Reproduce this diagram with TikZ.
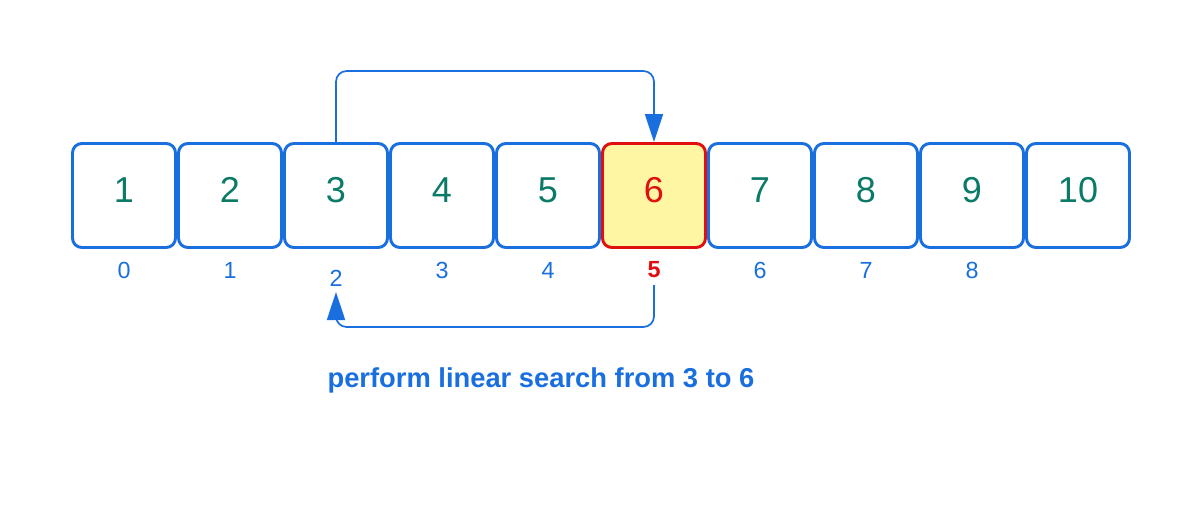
\documentclass[tikz,border=0pt]{standalone}
\usepackage{fontspec}
\setmainfont{Liberation Sans}
\usetikzlibrary{arrows.meta}
\definecolor{bl}{HTML}{1A6FDF}
\definecolor{gr}{HTML}{0B7A66}
\definecolor{rd}{HTML}{E01010}
\definecolor{yl}{HTML}{FFF6A3}
\begin{document}
\begin{tikzpicture}[x=0.75pt,y=-0.75pt,
  cell/.style={draw=bl,line width=2.2pt,rounded corners=7pt,minimum width=103*0.75pt,minimum height=104*0.75pt,inner sep=0pt,text=gr,font=\fontsize{27}{29}\selectfont},
  idx/.style={text=bl,font=\fontsize{17.5}{19}\selectfont,inner sep=0pt},
  conn/.style={draw=bl,line width=1.3pt,rounded corners=8pt},
  tip/.style={-{Triangle[length=28pt*0.75,width=18pt*0.75]}}]
\useasboundingbox (0,0) rectangle (1200,510);
\foreach \i in {1,...,10}{
  \ifnum\i=6
    \node[cell,draw=rd,fill=yl] (c\i) at ({124+106*(\i-1)},195.5) {};
    \node[text=rd,font=\fontsize{27}{29}\selectfont] (n\i) at ({124+106*(\i-1)},190) {\i};
  \else
    \node[cell] (c\i) at ({124+106*(\i-1)},195.5) {};
    \node[text=gr,font=\fontsize{27}{29}\selectfont] (n\i) at ({124+106*(\i-1)},190) {\i};
  \fi
}
\foreach \i/\j in {1/0,2/1,4/3,5/4,7/6,8/7,9/8}{
  \node[idx] (i\j) at ({124+106*(\i-1)},270) {\j};
}
\node[idx] (i2) at (336,278) {2};
\node[idx,text=rd,font=\fontsize{17.5}{19}\selectfont\bfseries] (i5) at (654,270) {5};
\draw[conn,tip] (c3.north) -- (336,71) -- (654,71) -- (c6.north);
\coordinate (b5) at (654,285);
\coordinate (t2) at (336,292);
\draw[conn,tip] (b5) -- (654,327) -- (336,327) -- (t2);
\node[text=bl,font=\fontsize{20.5}{23}\selectfont\bfseries] (title) at (541,380) {perform linear search from 3 to 6};
\end{tikzpicture}
\end{document}
